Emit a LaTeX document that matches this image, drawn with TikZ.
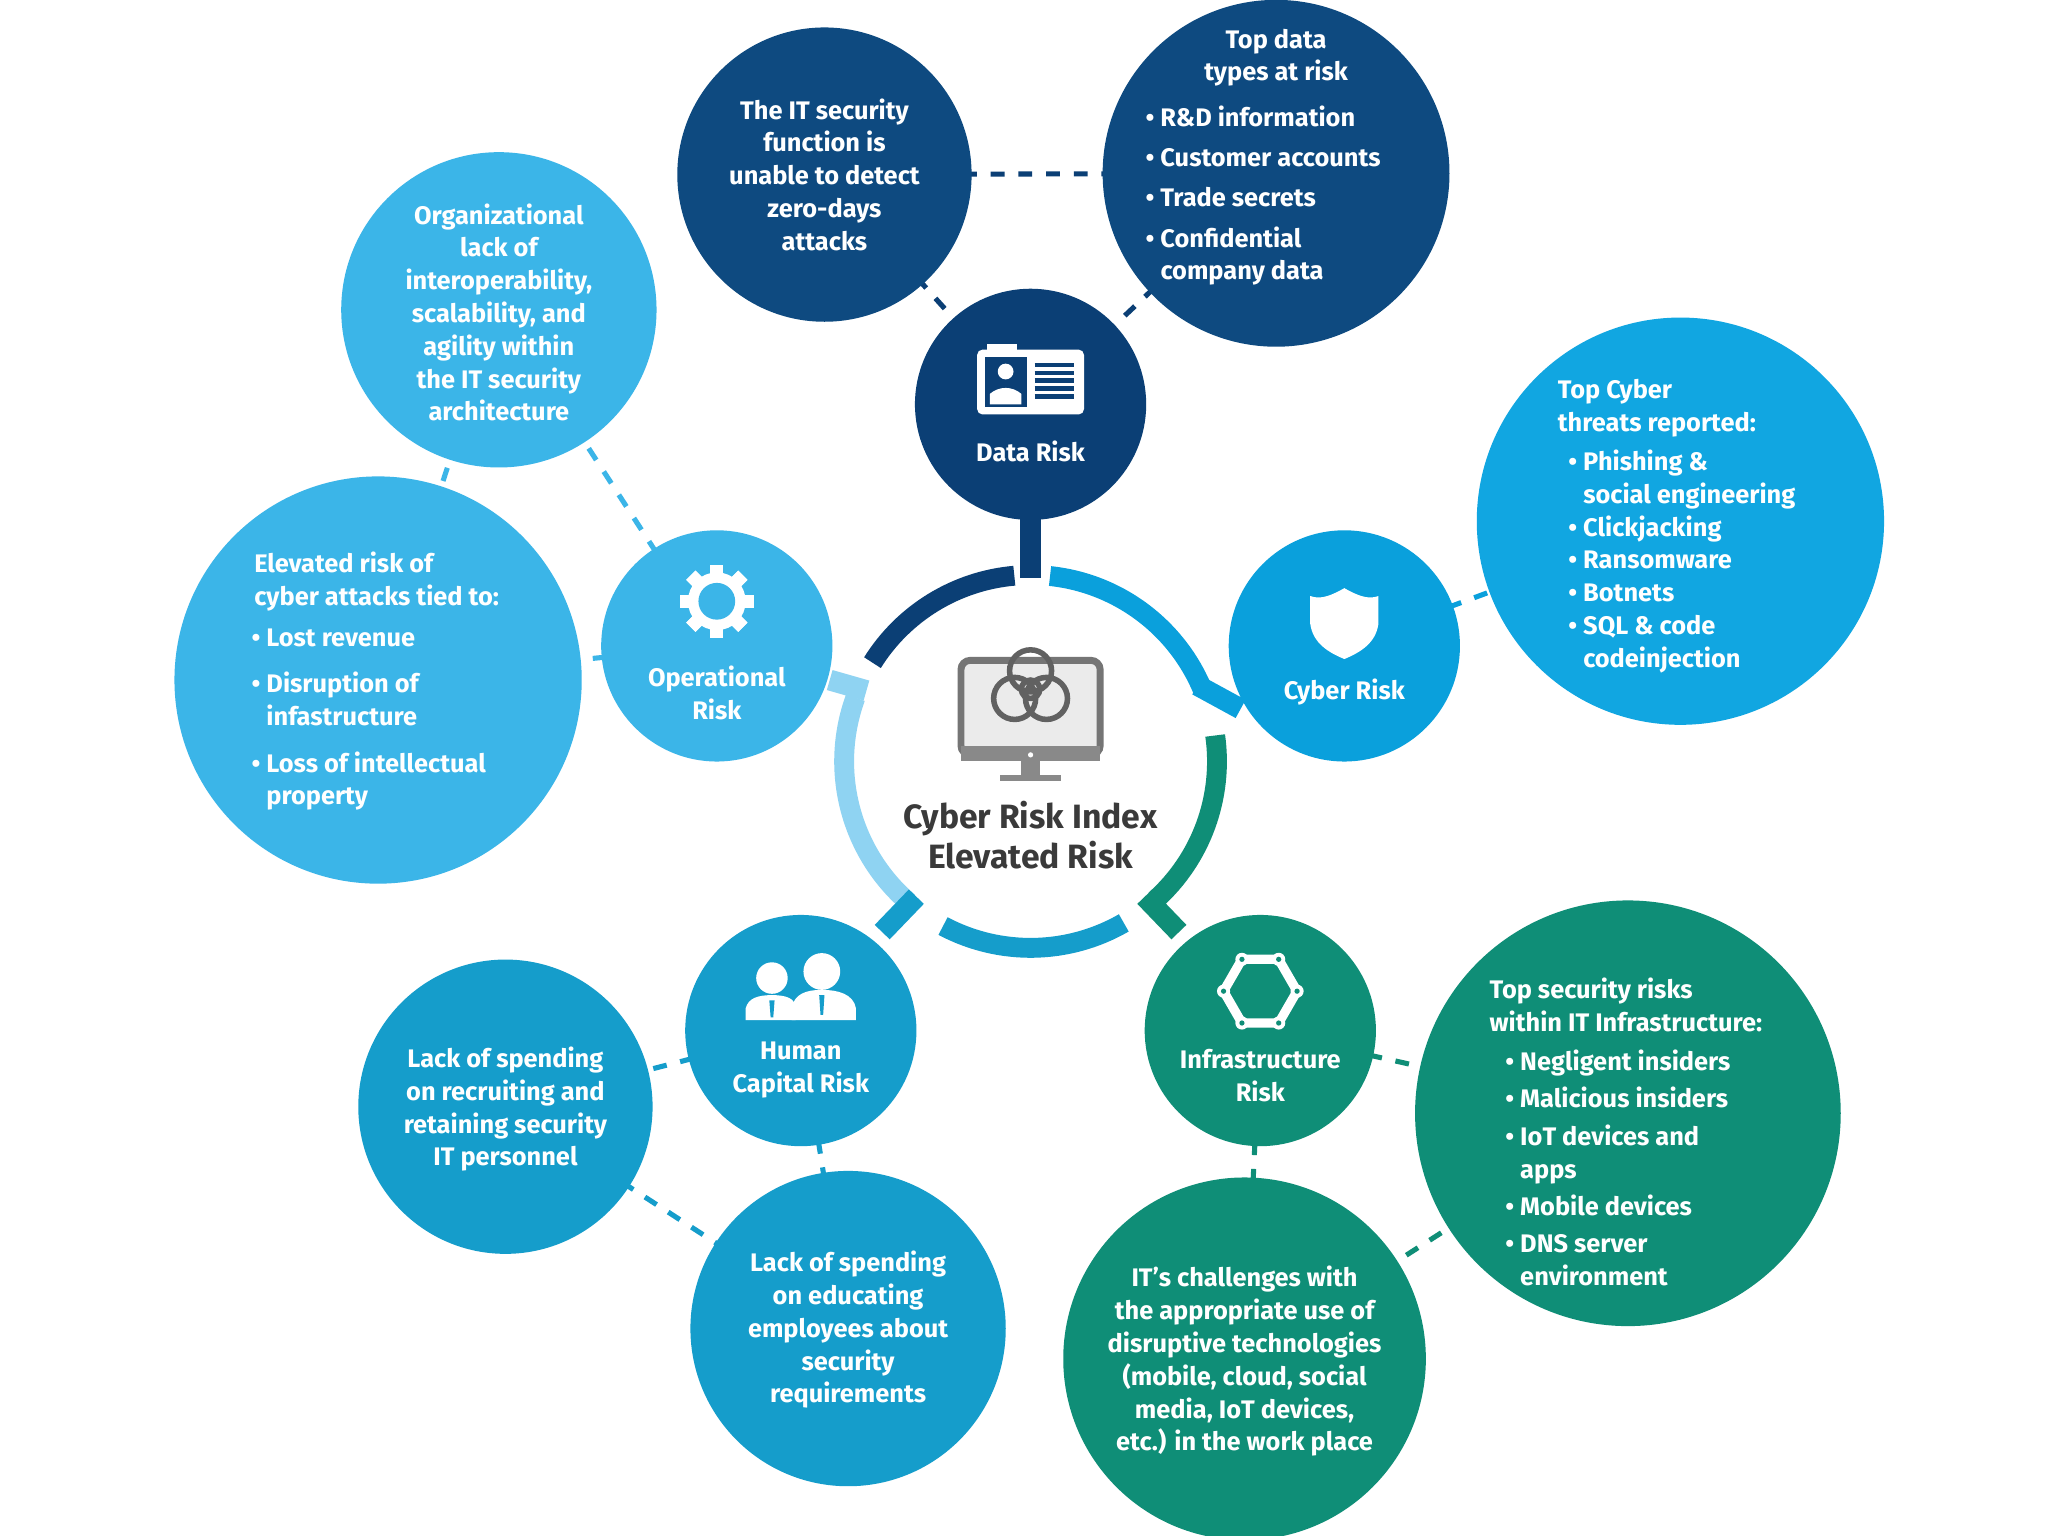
\documentclass[tikz,border=0pt]{standalone}
\usepackage{fontspec}
\setmainfont{Fira Sans}
\begin{document}
\begin{tikzpicture}[x=0.01cm,y=-0.01cm,
  bub/.style={circle,inner sep=0pt},
  txt/.style={text=white,font=\fontsize{5.5}{7.1}\selectfont\bfseries,align=center,inner sep=0pt},
  lst/.style={text=white,font=\fontsize{5.5}{7.1}\selectfont\bfseries,align=left,inner sep=0pt},
  dsh/.style={dashed,line width=1.1pt,dash pattern=on 3pt off 3pt},
  ring/.style={line width=4.3pt},
  stub/.style={line width=4.5pt}]
\definecolor{navy}{HTML}{0B3F75}
\definecolor{navyb}{HTML}{0E4A80}
\definecolor{cyb}{HTML}{0AA0DC}
\definecolor{cybb}{HTML}{11A6E1}
\definecolor{opb}{HTML}{3BB5E8}
\definecolor{hum}{HTML}{159DCB}
\definecolor{grn}{HTML}{0F8E77}
\definecolor{lgt}{HTML}{8FD3F2}
\definecolor{gry}{HTML}{3A3A3A}
\useasboundingbox (0,0) rectangle (1560,1170);
\fill[white] (0,0) rectangle (1560,1170);
% ring
\coordinate (ctr) at (785,580);
\draw[ring,navy] (ctr) ++(-95:142) arc (-95:-148:142);
\draw[ring,cyb] (ctr) ++(-84:142) arc (-84:-22:142);
\draw[ring,grn] (ctr) ++(-8:142) arc (-8:48:142);
\draw[ring,hum] (ctr) ++(60:142) arc (60:118:142);
\draw[ring,lgt] (ctr) ++(131:142) arc (131:200:142);
\newcommand{\bb}[5]{\node[bub,fill=#5,minimum size=#4*0.02cm] (#1) at (#2,#3) {};}
% connectors (drawn first)
\draw[dsh,navy] (628,133) -- (972,132);
\draw[dsh,navy] (628,133) -- (785,308);
\draw[dsh,navy] (972,132) -- (785,308);
\draw[dsh,cyb] (1024,492) -- (1280,397);
\draw[dsh,opb] (546,492) -- (380,236);
\draw[dsh,opb] (546,492) -- (288,518);
\draw[dsh,opb] (380,236) -- (288,518);
\draw[dsh,hum] (610,785) -- (385,843);
\draw[dsh,hum] (610,785) -- (646,1012);
\draw[dsh,hum] (385,843) -- (646,1012);
\draw[dsh,grn] (960,785) -- (1240,848);
\draw[dsh,grn] (960,785) -- (948,1035);
\draw[dsh,grn] (1240,848) -- (948,1035);
% stubs
\draw[stub,navy] (785,390) -- (785,440);
\draw[stub,cyb] (912,522) -- (945,540);
\draw[stub,lgt] (632,518) -- (660,526);
\draw[stub,hum] (698,683) -- (672,710);
\draw[stub,grn] (872,683) -- (898,710);
\bb{it}{628}{133}{112}{navyb}
\bb{top}{972}{132}{132}{navyb}
\bb{data}{785}{308}{88}{navy}
\bb{cyber}{1024}{492}{88}{cyb}
\bb{threat}{1280}{397}{155}{cybb}
\bb{op}{546}{492}{88}{opb}
\bb{org}{380}{236}{120}{opb}
\bb{elev}{288}{518}{155}{opb}
\bb{hc}{610}{785}{88}{hum}
\bb{rec}{385}{843}{112}{hum}
\bb{edu}{646}{1012}{120}{hum}
\bb{inf}{960}{785}{88}{grn}
\bb{sec}{1240}{848}{162}{grn}
\bb{chal}{948}{1035}{138}{grn}
% texts
\node[txt] (t-it) at (628,133) {The IT security\\function is\\unable to detect\\zero-days\\attacks};
\node[txt] (t-top1) at (972,44) {Top data\\types at risk};
\node[lst,anchor=north west] (t-top2) at (872,80) {\textbullet\ R\&D information\\[1.6pt]\textbullet\ Customer accounts\\[1.6pt]\textbullet\ Trade secrets\\[1.6pt]\textbullet\ Confidential\\\phantom{\textbullet\ }company data};
\node[txt] (t-data) at (785,344) {Data Risk};
\node[txt] (t-cyber) at (1024,527) {Cyber Risk};
\node[lst,anchor=north west] (t-th1) at (1186,288) {Top Cyber\\threats reported:};
\node[lst,anchor=north west] (t-th2) at (1194,342) {\textbullet\ Phishing \&\\\phantom{\textbullet\ }social engineering\\\textbullet\ Clickjacking\\\textbullet\ Ransomware\\\textbullet\ Botnets\\\textbullet\ SQL \& code\\\phantom{\textbullet\ }codeinjection};
\node[txt] (t-op) at (546,528) {Operational\\Risk};
\node[txt] (t-org) at (380,238) {Organizational\\lack of\\interoperability,\\scalability, and\\agility within\\the IT security\\architecture};
\node[lst,anchor=north west] (t-el1) at (193,420) {Elevated risk of\\cyber attacks tied to:};
\node[lst,anchor=north west] (t-el2) at (191,478) {\textbullet\ Lost revenue\\[3pt]\textbullet\ Disruption of\\\phantom{\textbullet\ }infastructure\\[3pt]\textbullet\ Loss of intellectual\\\phantom{\textbullet\ }property};
\node[txt] (t-hc) at (610,815) {Human\\Capital Risk};
\node[txt] (t-rec) at (385,845) {Lack of spending\\on recruiting and\\retaining security\\IT personnel};
\node[txt] (t-edu) at (646,1013) {Lack of spending\\on educating\\employees about\\security\\requirements};
\node[txt] (t-inf) at (960,819) {Infrastructure\\Risk};
\node[lst,anchor=north west] (t-s1) at (1134,744) {Top security risks\\within IT Infrastructure:};
\node[lst,anchor=north west] (t-s2) at (1146,799) {\textbullet\ Negligent insiders\\[1pt]\textbullet\ Malicious insiders\\[1pt]\textbullet\ IoT devices and\\\phantom{\textbullet\ }apps\\[1pt]\textbullet\ Mobile devices\\[1pt]\textbullet\ DNS server\\\phantom{\textbullet\ }environment};
\node[txt] (t-chal) at (948,1037) {IT's challenges with\\the appropriate use of\\disruptive technologies\\(mobile, cloud, social\\media, IoT devices,\\etc.) in the work place};
\node[text=gry,font=\fontsize{7.3}{8.6}\selectfont\bfseries,align=center] (t-ctr) at (785,636) {Cyber Risk Index\\Elevated Risk};
% icons: ID card
\draw[white,fill=white,rounded corners=1pt] (745,267) rectangle (825,315);
\fill[white] (752,262) rectangle (775,270);
\fill[navy] (750,272) rectangle (782,310);
\fill[white] (766,283) circle (6);
\fill[white] (754,308) -- (754,300) to[bend left=40] (778,300) -- (778,308) -- cycle;
\foreach \yy in {278,284,290,296,302} \draw[navy,line width=1pt] (788,\yy) -- (818,\yy);
% gear
\foreach \a in {0,45,...,315} \fill[white,rotate around={\a:(546,458)}] (541,430) rectangle (551,486);
\fill[white] (546,458) circle (22);
\fill[opb] (546,458) circle (14);
% shield
\fill[white] (1024,448) .. controls (1010,456) and (1004,456) .. (998,454) -- (998,475) .. controls (1000,490) and (1012,497) .. (1024,502) .. controls (1036,497) and (1048,490) .. (1050,475) -- (1050,454) .. controls (1044,456) and (1038,456) .. (1024,448) -- cycle;
% people
\fill[white] (588,745) circle (12);
\fill[white] (568,777) -- (568,768) .. controls (570,760) and (578,758) .. (588,758) .. controls (598,758) and (606,760) .. (606,768) -- (606,777) -- cycle;
\fill[white] (626,740) circle (14);
\fill[white] (603,777) -- (603,768) .. controls (605,757) and (614,754) .. (626,754) .. controls (638,754) and (650,757) .. (652,768) -- (652,777) -- cycle;
\fill[hum] (624,758) -- (628,758) -- (627,773) -- (625,773) -- cycle;
\fill[hum] (586,762) -- (590,762) -- (589,775) -- (587,775) -- cycle;
% hexagon
\draw[white,line width=2pt] (960,755) +(0:28) -- +(60:28) -- +(120:28) -- +(180:28) -- +(240:28) -- +(300:28) -- cycle;
\foreach \a in {0,60,...,300} \fill[white] (960,755) +(\a:28) circle (5);
\foreach \a in {0,60,...,300} \fill[grn] (960,755) +(\a:28) circle (2);
% monitor
\draw[gry!70,line width=1.5pt,fill=gry!10,rounded corners=2pt] (732,503) rectangle (838,575);
\fill[gry!60] (732,568) rectangle (838,580);
\fill[gry!60] (778,580) rectangle (792,590);
\fill[gry!60] (762,590) rectangle (808,595);
\fill[white] (785,575) circle (2);
\foreach \a in {-90,30,150} \draw[gry!80,line width=1.2pt] (785,525) +(\a:14) circle (16);
\draw[gry!80,line width=1.2pt] (785,525) circle (7);
\end{tikzpicture}
\end{document}
